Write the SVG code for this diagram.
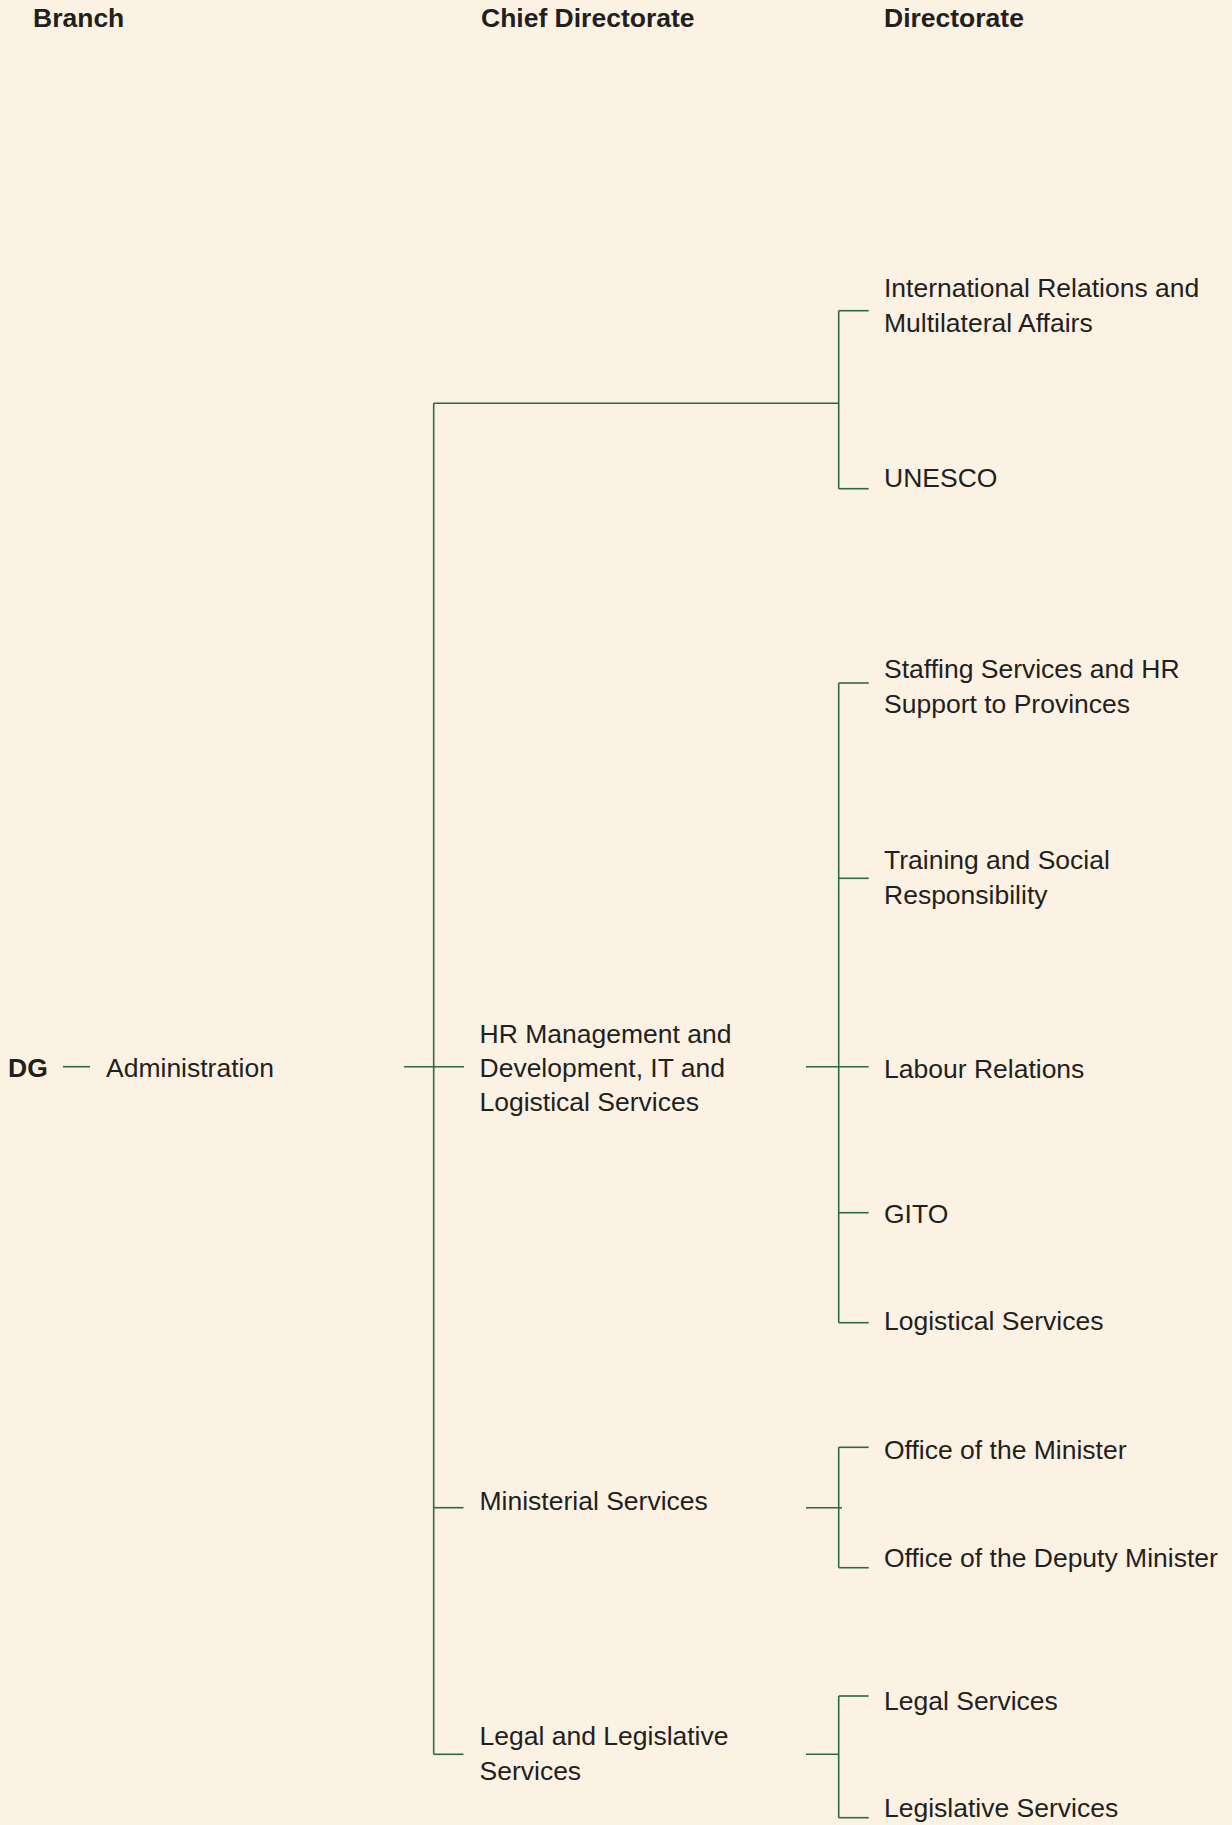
<svg xmlns="http://www.w3.org/2000/svg" width="1232" height="1825" viewBox="0 0 1232 1825">
<style>
text{font-family:"Liberation Sans",Arial,Helvetica,sans-serif;font-size:26.5px;fill:#231f20}
.h{font-weight:bold}
.c line{stroke:#2b6a43;stroke-width:1.6;fill:none}
</style>
<rect width="1232" height="1825" fill="#fcf2e3"/>
<g id="headers">
<text class="h" x="33" y="27">Branch</text>
<text class="h" x="481" y="27">Chief Directorate</text>
<text class="h" x="884" y="27">Directorate</text>
</g>
<g class="c" id="connectors">
<line x1="63" y1="1066.7" x2="90" y2="1066.7"/>
<line x1="433.7" y1="403.3" x2="433.7" y2="1754.3"/>
<line x1="433.7" y1="403.3" x2="838.7" y2="403.3"/>
<line x1="404" y1="1066.7" x2="464" y2="1066.7"/>
<line x1="433.7" y1="1507.7" x2="463.5" y2="1507.7"/>
<line x1="433.7" y1="1754.3" x2="463.5" y2="1754.3"/>
<line x1="838.7" y1="310.7" x2="838.7" y2="488.7"/>
<line x1="838.7" y1="310.7" x2="868.7" y2="310.7"/>
<line x1="838.7" y1="488.7" x2="868.7" y2="488.7"/>
<line x1="838.7" y1="683" x2="838.7" y2="1322.7"/>
<line x1="838.7" y1="683" x2="868.7" y2="683"/>
<line x1="838.7" y1="878.3" x2="868.7" y2="878.3"/>
<line x1="806" y1="1066.7" x2="868.7" y2="1066.7"/>
<line x1="838.7" y1="1212.7" x2="868.7" y2="1212.7"/>
<line x1="838.7" y1="1322.7" x2="868.7" y2="1322.7"/>
<line x1="838.7" y1="1447.3" x2="838.7" y2="1567.7"/>
<line x1="838.7" y1="1447.3" x2="868.7" y2="1447.3"/>
<line x1="838.7" y1="1567.7" x2="868.7" y2="1567.7"/>
<line x1="806" y1="1507.7" x2="842" y2="1507.7"/>
<line x1="838.7" y1="1696" x2="838.7" y2="1817.7"/>
<line x1="838.7" y1="1696" x2="868.7" y2="1696"/>
<line x1="838.7" y1="1817.7" x2="868.7" y2="1817.7"/>
<line x1="806" y1="1754.3" x2="838.7" y2="1754.3"/>
</g>
<g id="dg"><text class="h" x="8" y="1077">DG</text></g>
<g id="administration"><text x="106" y="1077">Administration</text></g>
<g id="hr-management"><text x="479.5" y="1042.5">HR Management and</text><text x="479.5" y="1077">Development, IT and</text><text x="479.5" y="1111">Logistical Services</text></g>
<g id="ministerial-services"><text x="479.5" y="1510">Ministerial Services</text></g>
<g id="legal-legislative"><text x="479.5" y="1745">Legal and Legislative</text><text x="479.5" y="1780">Services</text></g>
<g id="international-relations"><text x="884" y="296.7">International Relations and</text><text x="884" y="331.7">Multilateral Affairs</text></g>
<g id="unesco"><text x="884" y="486.5">UNESCO</text></g>
<g id="staffing"><text x="884" y="678.3">Staffing Services and HR</text><text x="884" y="713.3">Support to Provinces</text></g>
<g id="training"><text x="884" y="869.3">Training and Social</text><text x="884" y="904">Responsibility</text></g>
<g id="labour-relations"><text x="884" y="1078.3">Labour Relations</text></g>
<g id="gito"><text x="884" y="1223.3">GITO</text></g>
<g id="logistical-services"><text x="884" y="1330">Logistical Services</text></g>
<g id="office-minister"><text x="884" y="1459.3">Office of the Minister</text></g>
<g id="office-deputy-minister"><text x="884" y="1567.3">Office of the Deputy Minister</text></g>
<g id="legal-services"><text x="884" y="1710">Legal Services</text></g>
<g id="legislative-services"><text x="884" y="1817">Legislative Services</text></g>
</svg>
